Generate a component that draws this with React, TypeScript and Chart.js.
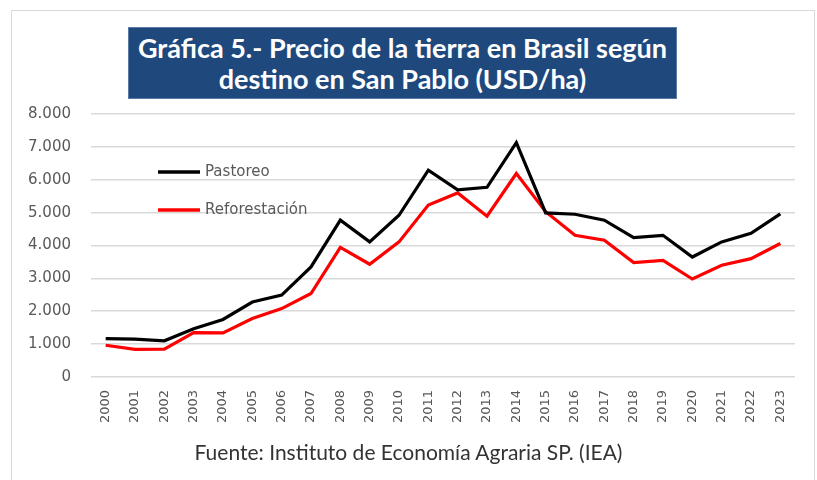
import React, { useEffect, useRef } from "react";
import { Chart, registerables } from "chart.js";

Chart.register(...registerables);

const years = ["2000","2001","2002","2003","2004","2005","2006","2007","2008","2009","2010","2011","2012","2013","2014","2015","2016","2017","2018","2019","2020","2021","2022","2023"];
const pastoreo = [1170,1150,1100,1470,1750,2280,2490,3350,4770,4110,4920,6290,5690,5770,7130,4990,4950,4770,4240,4310,3650,4110,4370,4960];
const reforestacion = [965,840,845,1350,1340,1780,2080,2540,3940,3430,4110,5230,5600,4890,6190,5030,4310,4160,3480,3550,2980,3400,3600,4060];
const yTicks = [0,1000,2000,3000,4000,5000,6000,7000,8000];

const titleLines = ["Gráfica 5.- Precio de la tierra en Brasil según", "destino en San Pablo (USD/ha)"];
const sourceText = "Fuente: Instituto de Economía Agraria SP. (IEA)";

function fmt(v: number): string {
  const s = Math.round(v).toString();
  return s.replace(/\B(?=(\d{3})+(?!\d))/g, ".");
}

const legendPlugin = {
  id: "insideLegend",
  afterDatasetsDraw(chart: any) {
    const ctx = chart.ctx;
    const area = chart.chartArea;
    const items = chart.data.datasets;
    ctx.save();
    items.forEach((ds: any, i: number) => {
      const y = area.top + 58 + i * 38;
      const x0 = area.left + 67;
      ctx.strokeStyle = ds.borderColor;
      ctx.lineWidth = 3.5;
      ctx.beginPath();
      ctx.moveTo(x0, y);
      ctx.lineTo(x0 + 42, y);
      ctx.stroke();
      ctx.fillStyle = "#595959";
      ctx.font = "15px 'DejaVu Sans'";
      ctx.textBaseline = "middle";
      ctx.textAlign = "left";
      ctx.fillText(ds.label, x0 + 47, y);
    });
    ctx.restore();
  },
};

export default function App() {
  const ref = useRef<HTMLCanvasElement | null>(null);
  useEffect(() => {
    if (!ref.current) return;
    const chart = new Chart(ref.current, {
      type: "line",
      data: {
        labels: years,
        datasets: [
          { label: "Pastoreo", data: pastoreo, borderColor: "#000000", backgroundColor: "#000000", borderWidth: 3.2, pointRadius: 0, tension: 0 },
          { label: "Reforestación", data: reforestacion, borderColor: "#ff0000", backgroundColor: "#ff0000", borderWidth: 3.2, pointRadius: 0, tension: 0 },
        ],
      },
      options: {
        responsive: false,
        animation: false,
        layout: { padding: { left: 0, top: 114, right: 22, bottom: 0 } },
        plugins: { legend: { display: false }, title: { display: false }, tooltip: { enabled: false } },
        scales: {
          x: {
            offset: true,
            grid: { display: false, drawTicks: false },
            border: { display: false },
            ticks: {
              minRotation: 90,
              maxRotation: 90,
              autoSkip: false,
              padding: 13,
              color: "#595959",
              font: { family: "'DejaVu Sans'", size: 13 },
            },
            afterFit(scale: any) { scale.height = 103; },
          },
          y: {
            min: 0,
            max: 8000,
            afterBuildTicks(scale: any) { scale.ticks = yTicks.map((v) => ({ value: v })); },
            grid: { color: "#d9d9d9", lineWidth: 1.6, drawTicks: false },
            border: { display: false },
            ticks: {
              padding: 20,
              color: "#595959",
              font: { family: "'DejaVu Sans'", size: 15 },
              callback: (v: any) => fmt(Number(v)),
            },
            afterFit(scale: any) { scale.width = 91; },
          },
        },
      },
      plugins: [legendPlugin],
    });
    return () => chart.destroy();
  }, []);

  return (
    <div style={{ position: "fixed", left: 0, top: 0, width: 817, height: 480, background: "#ffffff", overflow: "hidden" }}>
      <div style={{ position: "absolute", left: 11, top: 10, width: 804, height: 475, border: "1px solid #d9d9d9", boxSizing: "border-box" }} />
      <div style={{ position: "absolute", left: 128, top: 27, width: 549, height: 72, background: "#1f497d", color: "#ffffff", fontFamily: "Lato, 'Open Sans', sans-serif", fontWeight: 700, fontSize: 27, lineHeight: "31px", textAlign: "center", display: "flex", flexDirection: "column", justifyContent: "center", border: "1px solid #5b7ba6", boxSizing: "border-box", whiteSpace: "nowrap" }}>
        {titleLines.map((t, i) => (<div key={i}>{t}</div>))}
      </div>
      <canvas ref={ref} width={817} height={480} style={{ position: "absolute", left: 0, top: 0, width: 817, height: 480 }} />
      <div style={{ position: "absolute", left: 0, width: 817, top: 439, textAlign: "center", fontFamily: "Lato, 'Open Sans', sans-serif", fontSize: 21, lineHeight: "26px", color: "#333333", whiteSpace: "nowrap" }}>
        {sourceText}
      </div>
    </div>
  );
}
